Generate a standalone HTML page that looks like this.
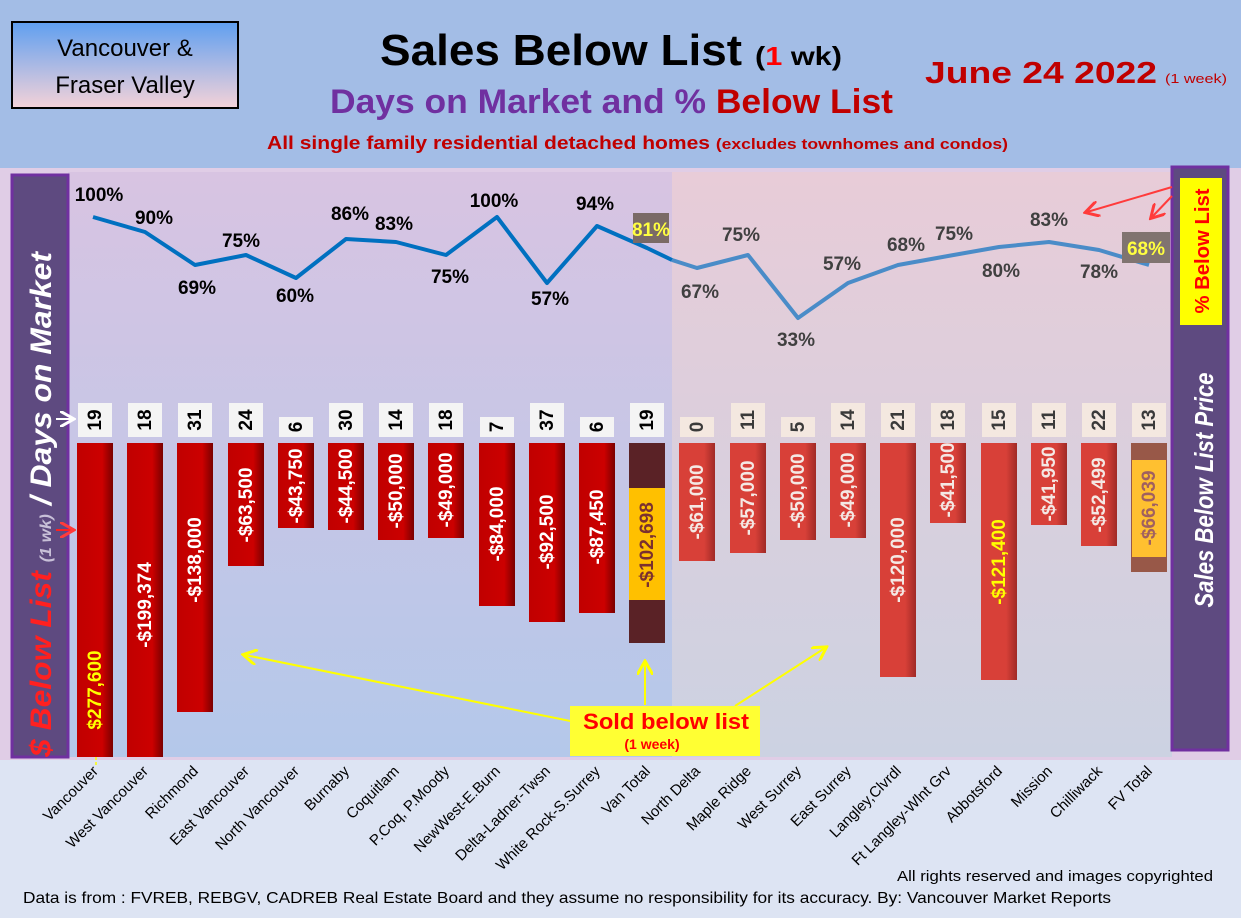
<!DOCTYPE html>
<html><head><meta charset="utf-8"><style>
body{margin:0;padding:0;}
svg{display:block;font-family:"Liberation Sans",sans-serif;}
</style></head><body>
<svg width="1241" height="918" viewBox="0 0 1241 918" xmlns="http://www.w3.org/2000/svg">
<defs>
<linearGradient id="tb" x1="0" y1="0" x2="0" y2="1"><stop offset="0" stop-color="#5f9ff0"/><stop offset="1" stop-color="#f4d2d8"/></linearGradient>
<linearGradient id="pl" x1="0" y1="0" x2="0" y2="1"><stop offset="0" stop-color="#d8c4e2"/><stop offset="1" stop-color="#b4c8ea"/></linearGradient>
<linearGradient id="pr" x1="0" y1="0" x2="0" y2="1"><stop offset="0" stop-color="#e8ccd8"/><stop offset="1" stop-color="#ccd2e2"/></linearGradient>
<linearGradient id="rb" x1="0" y1="0" x2="1" y2="0"><stop offset="0" stop-color="#c00000"/><stop offset="0.7" stop-color="#cc0000"/><stop offset="1" stop-color="#7a0000"/></linearGradient>
<linearGradient id="rb2" x1="0" y1="0" x2="1" y2="0"><stop offset="0" stop-color="#d84038"/><stop offset="0.7" stop-color="#d84038"/><stop offset="1" stop-color="#a02a26"/></linearGradient>
<marker id="ay" markerWidth="8" markerHeight="8" refX="6" refY="4" orient="auto"><path d="M0,0 L7,4 L0,8" fill="none" stroke="#ffff00" stroke-width="1.5"/></marker>
<marker id="ar" markerWidth="8" markerHeight="8" refX="6" refY="4" orient="auto"><path d="M0,0 L7,4 L0,8" fill="none" stroke="#ff3b3b" stroke-width="1.5"/></marker>
<marker id="aw" markerWidth="8" markerHeight="8" refX="6" refY="4" orient="auto"><path d="M0,0 L7,4 L0,8" fill="none" stroke="#ffffff" stroke-width="1.5"/></marker>
</defs>
<rect width="1241" height="918" fill="#dde4f3"/>
<rect width="1241" height="168" fill="#a3bde6"/>
<rect x="0" y="168" width="1241" height="592" fill="#e0cde6"/>
<rect x="68" y="172" width="604" height="585" fill="url(#pl)"/>
<rect x="672" y="172" width="500" height="585" fill="url(#pr)"/>
<rect x="12" y="22" width="226" height="86" fill="url(#tb)" stroke="#000" stroke-width="2"/>
<text x="125" y="56" font-size="24" text-anchor="middle">Vancouver &amp;</text>
<text x="125" y="93" font-size="24" text-anchor="middle">Fraser Valley</text>
<text x="380" y="65" font-size="44" font-weight="bold" textLength="362" lengthAdjust="spacingAndGlyphs">Sales Below List</text>
<text x="755" y="65" font-size="26" font-weight="bold" textLength="87" lengthAdjust="spacingAndGlyphs">(<tspan fill="#ff0000">1</tspan> wk)</text>
<text x="330" y="113" font-size="34" font-weight="bold" fill="#7030a0" textLength="563" lengthAdjust="spacingAndGlyphs">Days on Market and % <tspan fill="#c00000">Below List</tspan></text>
<text x="267" y="149" font-size="18" font-weight="bold" fill="#c00000" textLength="741" lengthAdjust="spacingAndGlyphs">All single family residential detached homes <tspan font-size="15">(excludes townhomes and condos)</tspan></text>
<text x="925" y="83" font-size="31" font-weight="bold" fill="#c00000" textLength="232" lengthAdjust="spacingAndGlyphs">June 24  2022</text>
<text x="1165" y="83" font-size="13" fill="#c00000" textLength="62" lengthAdjust="spacingAndGlyphs">(1 week)</text>
<rect x="12" y="175" width="56" height="582" fill="#5e4a80" stroke="#7030a0" stroke-width="3"/>
<text transform="translate(51,757) rotate(-90)" font-size="30" font-weight="bold" font-style="italic" fill="#fff" textLength="505" lengthAdjust="spacingAndGlyphs"><tspan fill="#ff2020">$ Below List</tspan> <tspan font-size="16" fill="#c8c0d8">(1 wk)</tspan> / Days on Market</text>
<line x1="56" y1="419" x2="72" y2="419" stroke="#fff" stroke-width="2" marker-end="url(#aw)"/>
<line x1="56" y1="530" x2="72" y2="530" stroke="#ff2020" stroke-width="2" marker-end="url(#ar)"/>
<rect x="1172" y="167" width="56" height="583" fill="#5e4a80" stroke="#7030a0" stroke-width="3"/>
<rect x="1180" y="178" width="42" height="147" fill="#ffff00"/>
<text transform="translate(1209,251) rotate(-90)" font-size="20" font-weight="bold" fill="#ff0000" text-anchor="middle" textLength="125" lengthAdjust="spacingAndGlyphs">% Below List</text>
<text transform="translate(1213,490) rotate(-90)" font-size="26" font-weight="bold" font-style="italic" fill="#fff" text-anchor="middle" textLength="235" lengthAdjust="spacingAndGlyphs">Sales Below List Price</text>
<g>
<rect x="77" y="443" width="36" height="314" fill="url(#rb)"/>
<rect x="127" y="443" width="36" height="314" fill="url(#rb)"/>
<rect x="177" y="443" width="36" height="269" fill="url(#rb)"/>
<rect x="228" y="443" width="36" height="123" fill="url(#rb)"/>
<rect x="278" y="443" width="36" height="85" fill="url(#rb)"/>
<rect x="328" y="443" width="36" height="87" fill="url(#rb)"/>
<rect x="378" y="443" width="36" height="97" fill="url(#rb)"/>
<rect x="428" y="443" width="36" height="95" fill="url(#rb)"/>
<rect x="479" y="443" width="36" height="163" fill="url(#rb)"/>
<rect x="529" y="443" width="36" height="179" fill="url(#rb)"/>
<rect x="579" y="443" width="36" height="170" fill="url(#rb)"/>
<rect x="629" y="443" width="36" height="200" fill="#5a2226"/>
<rect x="629" y="488" width="36" height="112" fill="#ffc000"/>
<rect x="679" y="443" width="36" height="118" fill="url(#rb2)"/>
<rect x="730" y="443" width="36" height="110" fill="url(#rb2)"/>
<rect x="780" y="443" width="36" height="97" fill="url(#rb2)"/>
<rect x="830" y="443" width="36" height="95" fill="url(#rb2)"/>
<rect x="880" y="443" width="36" height="234" fill="url(#rb2)"/>
<rect x="930" y="443" width="36" height="80" fill="url(#rb2)"/>
<rect x="981" y="443" width="36" height="237" fill="url(#rb2)"/>
<rect x="1031" y="443" width="36" height="82" fill="url(#rb2)"/>
<rect x="1081" y="443" width="36" height="103" fill="url(#rb2)"/>
<rect x="1131" y="443" width="36" height="129" fill="#985848"/>
<rect x="1132" y="460" width="34" height="97" fill="#ffc030"/>
</g>
<g font-size="19" font-weight="bold" fill="#fff" text-anchor="middle">
<text transform="translate(101,690) rotate(-90)" fill="#ffff00">$277,600</text>
<text transform="translate(151,605) rotate(-90)">-$199,374</text>
<text transform="translate(201,560) rotate(-90)">-$138,000</text>
<text transform="translate(252,505) rotate(-90)">-$63,500</text>
<text transform="translate(302,486) rotate(-90)">-$43,750</text>
<text transform="translate(352,486) rotate(-90)">-$44,500</text>
<text transform="translate(402,491) rotate(-90)">-$50,000</text>
<text transform="translate(452,490) rotate(-90)">-$49,000</text>
<text transform="translate(503,524) rotate(-90)">-$84,000</text>
<text transform="translate(553,532) rotate(-90)">-$92,500</text>
<text transform="translate(603,527) rotate(-90)">-$87,450</text>
<text transform="translate(653,545) rotate(-90)" fill="#7a3030">-$102,698</text>
<text transform="translate(703,502) rotate(-90)" fill="#f4e8e4">-$61,000</text>
<text transform="translate(754,498) rotate(-90)" fill="#f4e8e4">-$57,000</text>
<text transform="translate(804,491) rotate(-90)" fill="#f4e8e4">-$50,000</text>
<text transform="translate(854,490) rotate(-90)" fill="#f4e8e4">-$49,000</text>
<text transform="translate(904,560) rotate(-90)" fill="#f4e8e4">-$120,000</text>
<text transform="translate(954,480) rotate(-90)" fill="#f4e8e4">-$41,500</text>
<text transform="translate(1005,562) rotate(-90)" fill="#ffff00">-$121,400</text>
<text transform="translate(1055,484) rotate(-90)" fill="#f4e8e4">-$41,950</text>
<text transform="translate(1105,495) rotate(-90)" fill="#f4e8e4">-$52,499</text>
<text transform="translate(1155,508) rotate(-90)" fill="#a06060">-$66,039</text>
</g>
<g fill="#f4f4f4">
<rect x="78" y="403" width="34" height="34"/><rect x="128" y="403" width="34" height="34"/><rect x="178" y="403" width="34" height="34"/><rect x="229" y="403" width="34" height="34"/><rect x="279" y="417" width="34" height="20"/><rect x="329" y="403" width="34" height="34"/><rect x="379" y="403" width="34" height="34"/><rect x="429" y="403" width="34" height="34"/><rect x="480" y="417" width="34" height="20"/><rect x="530" y="403" width="34" height="34"/><rect x="580" y="417" width="34" height="20"/><rect x="630" y="403" width="34" height="34"/>
</g>
<g fill="#f4e8e0">
<rect x="680" y="417" width="34" height="20"/><rect x="731" y="403" width="34" height="34"/><rect x="781" y="417" width="34" height="20"/><rect x="831" y="403" width="34" height="34"/><rect x="881" y="403" width="34" height="34"/><rect x="931" y="403" width="34" height="34"/><rect x="982" y="403" width="34" height="34"/><rect x="1032" y="403" width="34" height="34"/><rect x="1082" y="403" width="34" height="34"/><rect x="1132" y="403" width="34" height="34"/>
</g>
<g font-size="19" font-weight="bold" text-anchor="middle">
<text transform="translate(101,420) rotate(-90)">19</text>
<text transform="translate(151,420) rotate(-90)">18</text>
<text transform="translate(201,420) rotate(-90)">31</text>
<text transform="translate(252,420) rotate(-90)">24</text>
<text transform="translate(302,427) rotate(-90)">6</text>
<text transform="translate(352,420) rotate(-90)">30</text>
<text transform="translate(402,420) rotate(-90)">14</text>
<text transform="translate(452,420) rotate(-90)">18</text>
<text transform="translate(503,427) rotate(-90)">7</text>
<text transform="translate(553,420) rotate(-90)">37</text>
<text transform="translate(603,427) rotate(-90)">6</text>
<text transform="translate(653,420) rotate(-90)">19</text>
<g fill="#3a3a3a">
<text transform="translate(703,427) rotate(-90)">0</text>
<text transform="translate(754,420) rotate(-90)">11</text>
<text transform="translate(804,427) rotate(-90)">5</text>
<text transform="translate(854,420) rotate(-90)">14</text>
<text transform="translate(904,420) rotate(-90)">21</text>
<text transform="translate(954,420) rotate(-90)">18</text>
<text transform="translate(1005,420) rotate(-90)">15</text>
<text transform="translate(1055,420) rotate(-90)">11</text>
<text transform="translate(1105,420) rotate(-90)">22</text>
<text transform="translate(1155,420) rotate(-90)">13</text>
</g></g>
<polyline points="93,217 145,232 195,265 246,255 296,278 346,239 396,242 446,255 497,217 547,283 597,226 647,248 672,260" fill="none" stroke="#0070c0" stroke-width="4" stroke-linejoin="round"/>
<polyline points="672,260 697,268 748,255 798,318 848,283 898,265 948,256 999,247 1049,242 1099,250 1149,265" fill="none" stroke="#4a8cc8" stroke-width="4" stroke-linejoin="round"/>
<rect x="633" y="213" width="36" height="30" fill="#7a6a66"/>
<rect x="1122" y="232" width="48" height="31" fill="#807470"/>
<g font-size="19" font-weight="bold" text-anchor="middle">
<text x="99" y="201">100%</text><text x="154" y="224">90%</text><text x="197" y="294">69%</text><text x="241" y="247">75%</text><text x="295" y="302">60%</text><text x="350" y="220">86%</text><text x="394" y="230">83%</text><text x="450" y="283">75%</text><text x="494" y="207">100%</text><text x="550" y="305">57%</text><text x="595" y="210">94%</text>
<text x="651" y="236" fill="#ffff40">81%</text>
<g fill="#404040"><text x="700" y="298">67%</text><text x="741" y="241">75%</text><text x="796" y="346">33%</text><text x="842" y="270">57%</text><text x="906" y="251">68%</text><text x="954" y="240">75%</text><text x="1001" y="277">80%</text><text x="1049" y="226">83%</text><text x="1099" y="278">78%</text></g>
<text x="1146" y="255" fill="#ffff40">68%</text>
</g>
<line x1="1172" y1="187" x2="1087" y2="212" stroke="#ff3b3b" stroke-width="2" marker-end="url(#ar)"/>
<line x1="1172" y1="196" x2="1152" y2="217" stroke="#ff3b3b" stroke-width="2" marker-end="url(#ar)"/>
<line x1="590" y1="725" x2="245" y2="655" stroke="#ffff00" stroke-width="2" marker-end="url(#ay)"/>
<line x1="645" y1="705" x2="645" y2="663" stroke="#ffff00" stroke-width="2" marker-end="url(#ay)"/>
<line x1="735" y1="706" x2="825" y2="648" stroke="#ffff00" stroke-width="2" marker-end="url(#ay)"/>
<rect x="570" y="706" width="190" height="50" fill="#ffff33"/>
<text x="666" y="729" font-size="22" font-weight="bold" fill="#ff0000" text-anchor="middle" textLength="166" lengthAdjust="spacingAndGlyphs">Sold below list</text>
<text x="652" y="749" font-size="14" font-weight="bold" fill="#ff0000" text-anchor="middle">(1 week)</text>
<line x1="96" y1="757" x2="96" y2="765" stroke="#ffff00" stroke-width="1.5" stroke-dasharray="3,2"/>
<g font-size="15" text-anchor="end">
<text transform="translate(99,772) rotate(-45)">Vancouver</text>
<text transform="translate(149,772) rotate(-45)">West Vancouver</text>
<text transform="translate(199,772) rotate(-45)">Richmond</text>
<text transform="translate(250,772) rotate(-45)">East Vancouver</text>
<text transform="translate(300,772) rotate(-45)">North Vancouver</text>
<text transform="translate(350,772) rotate(-45)">Burnaby</text>
<text transform="translate(400,772) rotate(-45)">Coquitlam</text>
<text transform="translate(450,772) rotate(-45)">P.Coq, P.Moody</text>
<text transform="translate(501,772) rotate(-45)">NewWest-E.Burn</text>
<text transform="translate(551,772) rotate(-45)">Delta-Ladner-Twsn</text>
<text transform="translate(601,772) rotate(-45)">White Rock-S.Surrey</text>
<text transform="translate(651,772) rotate(-45)">Van Total</text>
<text transform="translate(701,772) rotate(-45)">North Delta</text>
<text transform="translate(752,772) rotate(-45)">Maple Ridge</text>
<text transform="translate(802,772) rotate(-45)">West Surrey</text>
<text transform="translate(852,772) rotate(-45)">East Surrey</text>
<text transform="translate(902,772) rotate(-45)">Langley,Clvrdl</text>
<text transform="translate(952,772) rotate(-45)">Ft Langley-Wlnt Grv</text>
<text transform="translate(1003,772) rotate(-45)">Abbotsford</text>
<text transform="translate(1053,772) rotate(-45)">Mission</text>
<text transform="translate(1103,772) rotate(-45)">Chilliwack</text>
<text transform="translate(1153,772) rotate(-45)">FV Total</text>
</g>
<text x="897" y="881" font-size="15" textLength="316" lengthAdjust="spacingAndGlyphs">All rights reserved and  images copyrighted</text>
<text x="23" y="903" font-size="16" textLength="1088" lengthAdjust="spacingAndGlyphs">Data is from : FVREB, REBGV, CADREB Real Estate Board and they assume no responsibility for its accuracy. By: Vancouver Market Reports</text>
</svg>
</body></html>
